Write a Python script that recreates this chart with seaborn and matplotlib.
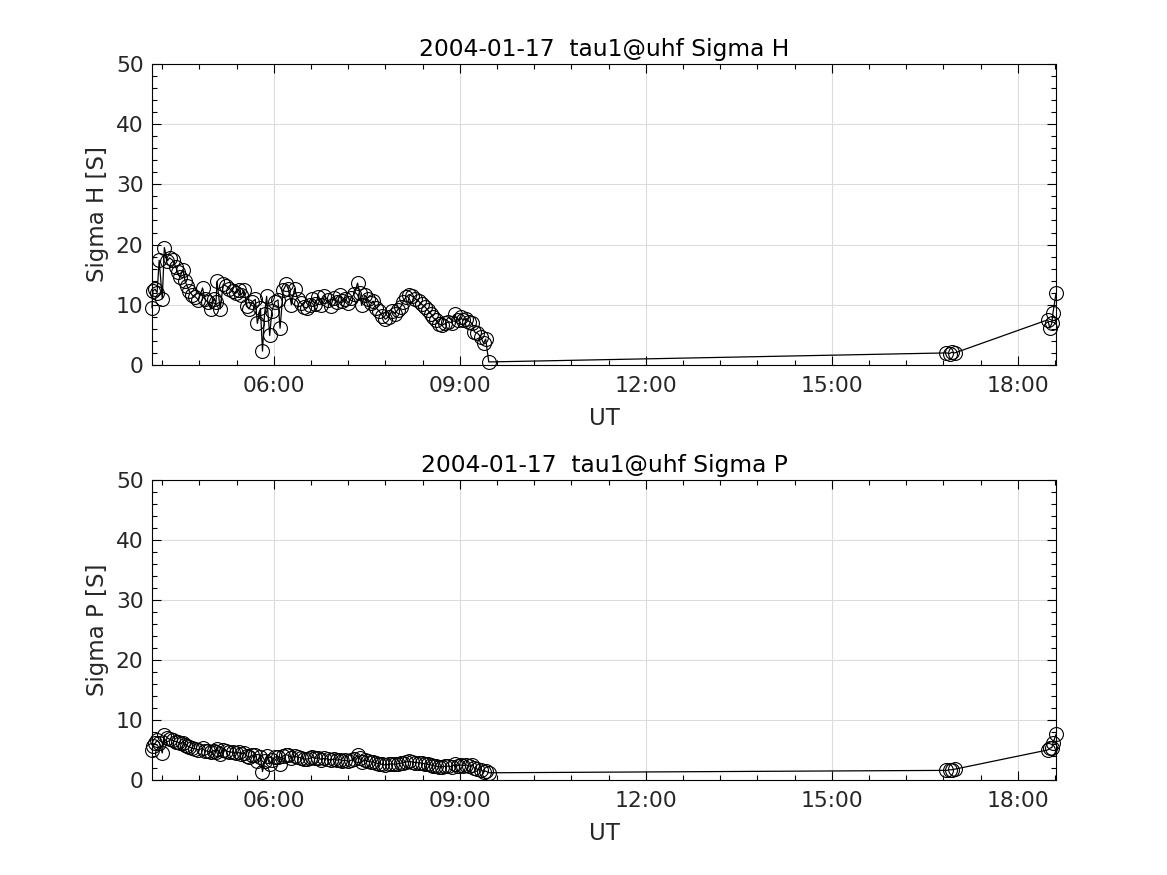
import numpy as np
import pandas as pd
import matplotlib
matplotlib.use("Agg")
import matplotlib.pyplot as plt
import matplotlib.dates as mdates
from matplotlib.ticker import AutoMinorLocator, FixedLocator
import seaborn as sns

DATE = "2004-01-17"
times = [
    "04:02", "04:03", "04:05", "04:07", "04:09", "04:12", "04:14", "04:17", "04:19", "04:22",
    "04:25", "04:27", "04:29", "04:32", "04:34", "04:36", "04:38", "04:41", "04:44", "04:47",
    "04:51", "04:53", "04:56", "04:59", "05:02", "05:04", "05:05", "05:08", "05:11", "05:14",
    "05:17", "05:20", "05:23", "05:26", "05:28", "05:31", "05:34", "05:36", "05:39", "05:42",
    "05:44", "05:47", "05:49", "05:51", "05:53", "05:56", "05:58", "06:01", "06:04", "06:06",
    "06:09", "06:12", "06:14", "06:17", "06:20", "06:23", "06:26", "06:29", "06:32", "06:35",
    "06:37", "06:40", "06:43", "06:46", "06:49", "06:52", "06:55", "06:58", "07:01", "07:04",
    "07:06", "07:09", "07:12", "07:15", "07:18", "07:21", "07:23", "07:25", "07:28", "07:31",
    "07:34", "07:36", "07:39", "07:42", "07:45", "07:48", "07:51", "07:54", "07:57", "08:00",
    "08:03", "08:05", "08:08", "08:11", "08:14", "08:17", "08:20", "08:23", "08:26", "08:29",
    "08:32", "08:34", "08:37", "08:40", "08:43", "08:46", "08:49", "08:52", "08:55", "08:58",
    "09:01", "09:03", "09:06", "09:09", "09:12", "09:14", "09:17", "09:20", "09:23", "09:25",
    "09:28",
    "16:51", "16:54", "16:56", "16:59",
    "18:29", "18:31", "18:33", "18:34", "18:37",
]
sigma_h = [
    9.5, 12.3, 12.6, 12.0, 17.4, 11.0, 19.5, 17.3, 17.8, 17.4,
    16.3, 15.4, 14.6, 15.8, 14.0, 13.1, 12.3, 11.6, 11.3, 10.8,
    12.8, 11.0, 10.4, 9.3, 11.0, 10.4, 13.9, 9.3, 13.4, 13.1,
    12.7, 12.3, 11.9, 12.5, 11.6, 12.4, 9.8, 9.3, 10.5, 10.9,
    6.9, 9.4, 2.3, 8.5, 11.4, 4.9, 8.9, 10.5, 10.8, 6.1,
    12.4, 13.4, 12.6, 10.0, 12.7, 11.0, 10.3, 9.6, 9.5, 10.0,
    10.9, 10.2, 11.3, 10.0, 11.5, 10.8, 9.8, 11.2, 10.4, 11.6,
    10.6, 11.0, 10.3, 11.2, 11.8, 13.6, 12.0, 9.9, 11.6, 10.9,
    10.3, 10.6, 9.5, 8.9, 8.2, 7.6, 8.0, 8.9, 8.5, 9.2,
    9.7, 10.5, 11.3, 11.7, 11.4, 11.0, 10.6, 10.1, 9.7, 9.1,
    8.5, 7.9, 7.4, 6.8, 6.6, 6.9, 7.2, 7.0, 8.4, 7.5,
    7.9, 7.4, 7.7, 7.2, 6.9, 5.5, 5.3, 4.7, 3.6, 4.3,
    0.5,
    2.0, 1.9, 2.1, 2.0,
    7.5, 6.1, 7.0, 8.6, 11.9,
]
sigma_p = [
    5.0, 5.6, 6.1, 6.6, 6.2, 4.5, 7.5, 7.0, 6.8, 6.6,
    6.4, 6.3, 6.1, 6.2, 5.9, 5.7, 5.5, 5.3, 5.2, 5.0,
    5.3, 4.9, 4.8, 4.6, 4.9, 4.7, 5.1, 4.4, 5.0, 4.8,
    4.7, 4.6, 4.5, 4.6, 4.3, 4.5, 4.0, 3.8, 4.1, 4.2,
    3.2, 3.9, 1.4, 3.1, 4.0, 2.6, 3.3, 3.8, 3.9, 2.7,
    4.0, 4.2, 4.1, 3.7, 4.0, 3.8, 3.7, 3.5, 3.5, 3.6,
    3.8, 3.6, 3.7, 3.4, 3.6, 3.5, 3.3, 3.5, 3.3, 3.4,
    3.2, 3.3, 3.1, 3.3, 3.5, 4.2, 3.6, 3.0, 3.3, 3.1,
    3.0, 3.0, 2.8, 2.7, 2.6, 2.5, 2.6, 2.7, 2.6, 2.7,
    2.8, 2.9, 3.0, 3.1, 3.0, 2.9, 2.9, 2.8, 2.7, 2.6,
    2.5, 2.4, 2.3, 2.2, 2.2, 2.3, 2.3, 2.2, 2.6, 2.4,
    2.5, 2.4, 2.5, 2.3, 2.5, 2.0, 1.8, 1.7, 1.4, 1.5,
    1.2,
    1.6, 1.7, 1.7, 1.8,
    5.0, 5.3, 5.4, 6.1, 7.6,
]
x_ticks = ["06:00", "09:00", "12:00", "15:00", "18:00"]
y_ticks = [0, 10, 20, 30, 40, 50]

df = pd.DataFrame({
    "time": pd.to_datetime([f"{DATE} {t}" for t in times]),
    "Sigma H": sigma_h,
    "Sigma P": sigma_p,
})

sns.set_style("white")
plt.rcParams["font.family"] = ["DejaVu Sans"]
TXT = "#262626"

fig = plt.figure(figsize=(11.67, 8.75), dpi=100)
ax1 = fig.add_axes([0.1302, 0.5829, 0.7747, 0.344])
ax2 = fig.add_axes([0.1302, 0.1086, 0.7747, 0.343])

major_x = pd.to_datetime([f"{DATE} {t}" for t in x_ticks])
minor_x = pd.date_range(f"{DATE} 04:12", f"{DATE} 18:37", freq="36min")

for ax, col, ylab in [(ax1, "Sigma H", "Sigma H [S]"), (ax2, "Sigma P", "Sigma P [S]")]:
    sns.lineplot(data=df, x="time", y=col, ax=ax, color="black", linewidth=0.9,
                 marker="o", markersize=10, markerfacecolor="none",
                 markeredgecolor="black", markeredgewidth=0.8, sort=False,
                 estimator=None, legend=False)
    for ln in ax.get_lines():
        ln.set_clip_on(False)
    ax.set_xlim(df["time"].iloc[0], df["time"].iloc[-1])
    ax.set_ylim(y_ticks[0], y_ticks[-1])
    ax.set_yticks(y_ticks)
    ax.yaxis.set_minor_locator(AutoMinorLocator(5))
    ax.set_xticks(major_x)
    ax.xaxis.set_minor_locator(FixedLocator(mdates.date2num(minor_x)))
    ax.xaxis.set_major_formatter(mdates.DateFormatter("%H:%M"))
    ax.grid(True, which="major", color="#dcdcdc", linewidth=0.8)
    ax.set_axisbelow(True)
    ax.tick_params(which="both", direction="in", top=True, right=True,
                   bottom=True, left=True,
                   colors="black", labelcolor=TXT, labelsize=15.7)
    ax.tick_params(which="major", length=6.5, width=0.8)
    ax.tick_params(axis="x", which="major", pad=8)
    ax.tick_params(axis="y", which="major", pad=6)
    ax.tick_params(which="minor", length=3.5, width=0.8)
    for sp in ax.spines.values():
        sp.set_color("black")
        sp.set_linewidth(0.8)
    ax.set_xlabel("UT", fontsize=16.5, color=TXT, labelpad=8)
    ax.set_ylabel(ylab, fontsize=16.5, color=TXT, labelpad=5)
    ax.set_title(f"{DATE}  tau1@uhf {col}", fontsize=16.8, color="black", pad=6)

fig.savefig("out.png", dpi=100)
